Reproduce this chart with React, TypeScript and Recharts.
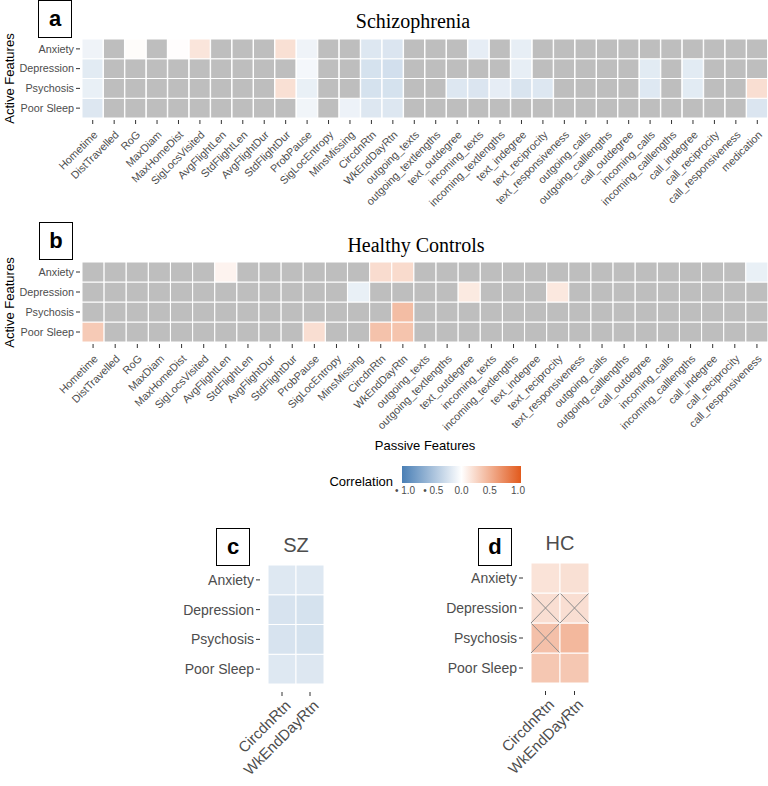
import React from 'react'
import { Bar, BarChart, XAxis, YAxis } from 'recharts'

// rows top to bottom
const ROWS = ['Anxiety', 'Depression', 'Psychosis', 'Poor Sleep']
const ROWS_BOTTOM_UP = [...ROWS].reverse()

const FEATURES_HC = [
  'Hometime', 'DistTravelled', 'RoG', 'MaxDiam', 'MaxHomeDist', 'SigLocsVisited',
  'AvgFlightLen', 'StdFlightLen', 'AvgFlightDur', 'StdFlightDur', 'ProbPause',
  'SigLocEntropy', 'MinsMissing', 'CircdnRtn', 'WkEndDayRtn', 'outgoing_texts',
  'outgoing_textlengths', 'text_outdegree', 'incoming_texts', 'incoming_textlengths',
  'text_indegree', 'text_reciprocity', 'text_responsiveness', 'outgoing_calls',
  'outgoing_calllengths', 'call_outdegree', 'incoming_calls', 'incoming_calllengths',
  'call_indegree', 'call_reciprocity', 'call_responsiveness',
]
const FEATURES_SZ = [...FEATURES_HC, 'medication']

// null = not significant (grey tile)
const _ = null
const SZ_ANXIETY = [-0.09, _, 0.02, _, 0.01, 0.16, _, _, _, 0.19, -0.09, _, _, -0.19, -0.2, _, _, _, -0.14, _, -0.13, _, _, _, _, _, _, _, _, _, _, _]
const SZ_DEPRESSION = [-0.16, _, _, _, _, _, _, _, _, _, -0.06, _, _, -0.23, -0.25, _, _, _, _, _, -0.13, _, _, _, _, _, -0.16, _, -0.16, _, _, _]
const SZ_PSYCHOSIS = [-0.12, _, _, _, _, _, _, _, _, 0.19, -0.12, _, _, -0.23, -0.23, _, _, -0.19, -0.2, -0.14, -0.21, -0.19, _, _, _, _, -0.18, _, -0.16, _, _, 0.2]
const SZ_SLEEP = [-0.19, _, _, _, _, _, _, _, _, _, -0.08, _, -0.1, -0.19, -0.19, _, _, _, _, _, _, _, _, _, _, _, _, _, _, _, _, -0.2]

const HC_ANXIETY = [_, _, _, _, _, _, 0.07, _, _, _, _, _, _, 0.21, 0.22, _, _, _, _, _, _, _, _, _, _, _, _, _, _, _, -0.12]
const HC_DEPRESSION = [_, _, _, _, _, _, _, _, _, _, _, _, -0.12, _, _, _, _, 0.13, _, _, _, 0.14, _, _, _, _, _, _, _, _, _]
const HC_PSYCHOSIS = [_, _, _, _, _, _, _, _, _, _, _, _, _, _, 0.4, _, _, _, _, _, _, _, _, _, _, _, _, _, _, _, _]
const HC_SLEEP = [0.32, _, _, _, _, _, _, _, _, _, 0.2, _, _, 0.37, 0.36, _, _, _, _, _, _, _, _, _, _, _, _, _, _, _, _]

const SUB_FEATURES = ['CircdnRtn', 'WkEndDayRtn']
const SZ_SUB_ANXIETY = [-0.18, -0.18]
const SZ_SUB_DEPRESSION = [-0.22, -0.23]
const SZ_SUB_PSYCHOSIS = [-0.22, -0.23]
const SZ_SUB_SLEEP = [-0.18, -0.19]
const HC_SUB_ANXIETY = [0.17, 0.19]
const HC_SUB_DEPRESSION = [0.2, 0.2]
const HC_SUB_PSYCHOSIS = [0.38, 0.43]
const HC_SUB_SLEEP = [0.34, 0.34]
const HC_CROSSED = [['Depression', 'CircdnRtn'], ['Depression', 'WkEndDayRtn'], ['Psychosis', 'CircdnRtn']]

const LEGEND_TICKS = [-1, -0.5, 0, 0.5, 1]
const LEGEND_LABELS = ['\u2022 1.0', '\u2022 0.5', '0.0', '0.5', '1.0']

const LOW = [74, 127, 181]
const HIGH = [226, 90, 28]
const NA_FILL = '#bebebe'
const TEXT = '#4d4d4d'
const SANS = '"Liberation Sans", Arial, Helvetica, sans-serif'
const SERIF = '"Liberation Serif", "Times New Roman", serif'

function colorOf(v: number | null) {
  if (v === null || v === undefined) return NA_FILL
  const end = v < 0 ? LOW : HIGH
  const t = Math.min(1, Math.abs(v))
  const c = end.map((e) => Math.round(255 + (e - 255) * t))
  return `rgb(${c[0]},${c[1]},${c[2]})`
}

// x tick: small mark below the tiles + label rotated 45deg, top-right corner at the anchor
function SlantTick(props: any) {
  const { x, y, payload, fs, gap, ax, ay } = props
  return (
    <g>
      <line x1={x} x2={x} y1={y + gap} y2={y + gap + 4} stroke="#333" />
      <g transform={`translate(${x + ax},${y + ay})`}>
        <text transform="rotate(-45)" textAnchor="end" dy="0.71em" fontSize={fs} fill={TEXT}>
          {payload.value}
        </text>
      </g>
    </g>
  )
}

// y tick: "label -" left of the tiles
function RowTick(props: any) {
  const { x, y, payload, fs, gap } = props
  return (
    <g>
      <line x1={x - gap - 4} x2={x - gap} y1={y} y2={y} stroke="#333" />
      <text x={x - gap - 6} y={y} dy="0.355em" textAnchor="end" fontSize={fs} fill={TEXT}>
        {ROWS_BOTTOM_UP[Math.floor(payload.value)]}
      </text>
    </g>
  )
}

type HeatProps = {
  features: string[]
  values: Record<string, (number | null)[]>
  left: number
  top: number
  width: number
  height: number
  marginTop: number
  yAxisWidth: number
  xAxisHeight: number
  fs: number
  xfs: number
  gap: number
  ax: number
  ay: number
  crossed?: string[][]
}

function Heatmap(p: HeatProps) {
  const data = p.features.map((f) => {
    const d: any = { feature: f }
    ROWS.forEach((r) => (d[r] = 1))
    return d
  })
  const tile = (row: string) => (props: any) => {
    const { x, y, width, height, payload } = props
    const i = p.features.indexOf(payload.feature)
    const cross = p.crossed?.some(([r, f]) => r === row && f === payload.feature)
    return (
      <g>
        <rect x={x} y={y} width={width} height={height} fill={colorOf(p.values[row][i])} stroke="#fff" strokeWidth={1} />
        {cross && (
          <path
            d={`M${x},${y}L${x + width},${y + height}M${x + width},${y}L${x},${y + height}`}
            stroke="#8c8c8c"
            strokeWidth={1}
          />
        )}
      </g>
    )
  }
  return (
    <div style={{ position: 'absolute', left: p.left, top: p.top }}>
      <BarChart
        width={p.width}
        height={p.height}
        data={data}
        barCategoryGap={0}
        barGap={0}
        margin={{ top: p.marginTop, right: 0, bottom: 0, left: 0 }}
      >
        <XAxis
          dataKey="feature"
          type="category"
          interval={0}
          height={p.xAxisHeight}
          axisLine={false}
          tickLine={false}
          tickSize={0}
          tickMargin={0}
          tick={(t: any) => <SlantTick {...t} fs={p.xfs} gap={p.gap} ax={p.ax} ay={p.ay} />}
        />
        <YAxis
          type="number"
          domain={[0, 4]}
          ticks={[0.5, 1.5, 2.5, 3.5]}
          interval={0}
          width={p.yAxisWidth}
          axisLine={false}
          tickLine={false}
          tickSize={0}
          tickMargin={0}
          tick={(t: any) => <RowTick {...t} fs={p.fs} gap={p.gap} />}
        />
        {ROWS_BOTTOM_UP.map((r) => (
          <Bar key={r} dataKey={r} stackId="s" isAnimationActive={false} shape={tile(r)} />
        ))}
      </BarChart>
    </div>
  )
}

function Box({ left, top, w, h, label }: { left: number; top: number; w: number; h: number; label: string }) {
  return (
    <div
      style={{
        position: 'absolute', left, top, width: w, height: h, boxSizing: 'border-box',
        border: '1px solid #000', display: 'flex', alignItems: 'center', justifyContent: 'center',
        fontWeight: 'bold', fontSize: 22, lineHeight: 1,
      }}
    >
      {label}
    </div>
  )
}

function Label({ cx, cy, text, size, color = '#000', family = SANS, rotate = false }: any) {
  const w = 240
  return (
    <div
      style={{
        position: 'absolute', left: cx - w / 2, top: cy - size / 2, width: w, height: size,
        lineHeight: `${size}px`, fontSize: size, textAlign: 'center', color, fontFamily: family,
        whiteSpace: 'nowrap', transform: rotate ? 'rotate(-90deg)' : undefined,
      }}
    >
      {text}
    </div>
  )
}

export default function App() {
  const barL = 402
  const barW = 119
  return (
    <div style={{ position: 'absolute', left: 0, top: 0, width: 768, height: 786, background: '#fff', fontFamily: SANS, overflow: 'hidden' }}>
      <Heatmap
        features={FEATURES_SZ}
        values={{ Anxiety: SZ_ANXIETY, Depression: SZ_DEPRESSION, Psychosis: SZ_PSYCHOSIS, 'Poor Sleep': SZ_SLEEP }}
        left={0} top={0} width={768} height={230} marginTop={39}
        yAxisWidth={82} xAxisHeight={112} fs={10.8} xfs={10.8} gap={2} ax={0} ay={12}
      />
      <Heatmap
        features={FEATURES_HC}
        values={{ Anxiety: HC_ANXIETY, Depression: HC_DEPRESSION, Psychosis: HC_PSYCHOSIS, 'Poor Sleep': HC_SLEEP }}
        left={0} top={223} width={768} height={230} marginTop={39}
        yAxisWidth={82} xAxisHeight={111} fs={10.8} xfs={10.8} gap={2} ax={0} ay={12}
      />
      <Heatmap
        features={SUB_FEATURES}
        values={{ Anxiety: SZ_SUB_ANXIETY, Depression: SZ_SUB_DEPRESSION, Psychosis: SZ_SUB_PSYCHOSIS, 'Poor Sleep': SZ_SUB_SLEEP }}
        left={178} top={565} width={146} height={219} marginTop={0}
        yAxisWidth={90} xAxisHeight={100} fs={14} xfs={15} gap={8} ax={2} ay={15}
      />
      <Heatmap
        features={SUB_FEATURES}
        values={{ Anxiety: HC_SUB_ANXIETY, Depression: HC_SUB_DEPRESSION, Psychosis: HC_SUB_PSYCHOSIS, 'Poor Sleep': HC_SUB_SLEEP }}
        left={441} top={563} width={148} height={220} marginTop={0}
        yAxisWidth={90} xAxisHeight={100} fs={14} xfs={15} gap={8} ax={2} ay={15}
        crossed={HC_CROSSED}
      />

      <Box left={38} top={0} w={34} h={38} label="a" />
      <Box left={39} top={222} w={34} h={38} label="b" />
      <Box left={216} top={528} w={34} h={38} label="c" />
      <Box left={478} top={528} w={34} h={38} label="d" />

      <Label cx={413} cy={21} text="Schizophrenia" size={20} family={SERIF} />
      <Label cx={416} cy={245} text="Healthy Controls" size={20} family={SERIF} />
      <Label cx={9} cy={78} text="Active Features" size={13} rotate />
      <Label cx={9} cy={302} text="Active Features" size={13} rotate />
      <Label cx={425} cy={445} text="Passive Features" size={13} />
      <Label cx={296} cy={545} text="SZ" size={20} color={TEXT} />
      <Label cx={560} cy={543} text="HC" size={20} color={TEXT} />

      <div style={{ position: 'absolute', left: 293, top: 475, width: 100, textAlign: 'right', fontSize: 13, lineHeight: '13px' }}>
        Correlation
      </div>
      <svg style={{ position: 'absolute', left: barL, top: 466 }} width={barW} height={17}>
        <defs>
          <linearGradient id="corrGrad" x1="0" x2="1" y1="0" y2="0">
            {[-1, -0.75, -0.5, -0.25, 0, 0.25, 0.5, 0.75, 1].map((v) => (
              <stop key={v} offset={`${((v + 1) / 2) * 100}%`} stopColor={colorOf(v)} />
            ))}
          </linearGradient>
        </defs>
        <rect x={0} y={0} width={barW} height={17} fill="url(#corrGrad)" />
      </svg>
      {LEGEND_TICKS.map((v, i) => (
        <div
          key={v}
          style={{
            position: 'absolute', left: barL + 3 + ((v + 1) / 2) * (barW - 6) - 20, top: 486, width: 40,
            textAlign: 'center', fontSize: 10, lineHeight: '10px', color: TEXT, whiteSpace: 'nowrap',
          }}
        >
          {LEGEND_LABELS[i]}
        </div>
      ))}
    </div>
  )
}
